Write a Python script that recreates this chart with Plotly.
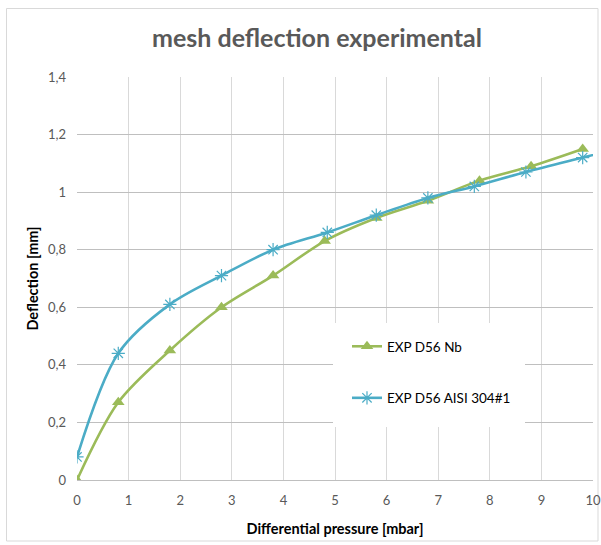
import plotly.graph_objects as go

# Data
nb_x = [0, 0.8, 1.8, 2.8, 3.8, 4.8, 5.8, 6.8, 7.8, 8.8, 9.8]
nb_y = [0.0, 0.27, 0.45, 0.60, 0.71, 0.83, 0.91, 0.97, 1.04, 1.09, 1.15]
aisi_x = [0, 0.8, 1.8, 2.8, 3.8, 4.85, 5.8, 6.8, 7.7, 8.7, 9.8, 10.8]
aisi_y = [0.08, 0.44, 0.61, 0.71, 0.80, 0.86, 0.92, 0.98, 1.02, 1.07, 1.12, 1.165]
x_ticks = [0, 1, 2, 3, 4, 5, 6, 7, 8, 9, 10]
y_ticks = [0, 0.2, 0.4, 0.6, 0.8, 1.0, 1.2, 1.4]

GREEN = "#9BBB59"
BLUE = "#4BACC6"
FONT = "Lato"

W, H = 601, 545
L, R, T, B = 77, 8, 77, 65
pw, ph = W - L - R, H - T - B

def px_x(p):  # window pixel -> paper
    return (p - L) / pw

def px_y(p):
    return (H - B - p) / ph

fig = go.Figure()
fig.add_trace(go.Scatter(
    x=nb_x, y=nb_y, name="EXP D56 Nb", mode="lines+markers",
    line=dict(color=GREEN, width=2.6, shape="spline", smoothing=0.9),
    marker=dict(symbol="triangle-up", size=11, color=GREEN),
    legendgroup="a", cliponaxis=True,
))
fig.add_trace(go.Scatter(
    x=aisi_x, y=aisi_y, name="EXP D56 AISI 304#1", mode="lines+markers",
    line=dict(color=BLUE, width=2.6, shape="spline", smoothing=0.9),
    marker=dict(symbol="asterisk-open", size=11, color=BLUE, line=dict(color=BLUE, width=1.2)),
    legendgroup="b", cliponaxis=True,
))

shapes = [
    # legend background box
    dict(type="rect", xref="paper", yref="paper",
         x0=px_x(333), x1=px_x(525), y0=px_y(427), y1=px_y(323),
         fillcolor="white", line=dict(width=0), layer="above"),
    # outer chart border
    dict(type="rect", xref="paper", yref="paper",
         x0=px_x(6.5), x1=px_x(598), y0=px_y(541), y1=px_y(8.5),
         fillcolor="rgba(0,0,0,0)", line=dict(color="#d9d9d9", width=1), layer="below"),
]

fig.update_layout(
    width=W, height=H,
    margin=dict(l=L, r=R, t=T, b=B, autoexpand=False),
    paper_bgcolor="white", plot_bgcolor="white",
    separators=", ",
    font=dict(family=FONT, color="#595959", size=13),
    title=dict(text="<b>mesh deflection experimental</b>", x=317 / W, xanchor="center",
               y=1 - 38 / H, yanchor="middle",
               font=dict(family=FONT, size=25, color="#595959")),
    xaxis=dict(range=[0, 10], tickvals=x_ticks, showgrid=True, gridcolor="#d9d9d9", gridwidth=1,
               zeroline=False, showline=True, linecolor="#bfbfbf", linewidth=1,
               ticks="", ticklabelstandoff=8, automargin=False, ticklabeloverflow="allow",
               tickfont=dict(family=FONT, size=13, color="#595959"),
               title=dict(text="<b>Differential pressure [mbar]</b>", standoff=17,
                          font=dict(family=FONT, size=14.5, color="#000000"))),
    yaxis=dict(range=[0, 1.4], tickvals=y_ticks, showgrid=True, gridcolor="#bfbfbf", gridwidth=1.2,
               zeroline=False, showline=False, ticks="", ticklabelstandoff=10, automargin=False,
               tickfont=dict(family=FONT, size=13, color="#595959"),
               title=dict(text="<b>Deflection [mm]</b>", standoff=5,
                          font=dict(family=FONT, size=14.5, color="#000000"))),
    legend=dict(x=px_x(347), y=px_y(331), xanchor="left", yanchor="top",
                bgcolor="rgba(255,255,255,0)", tracegroupgap=31,
                font=dict(family=FONT, size=13.5, color="#000000"),
                itemwidth=30),
    shapes=shapes,
)

fig.write_html("out.html", config={"displayModeBar": False},
               post_script="document.body.style.margin='0';document.body.style.overflow='hidden';")
